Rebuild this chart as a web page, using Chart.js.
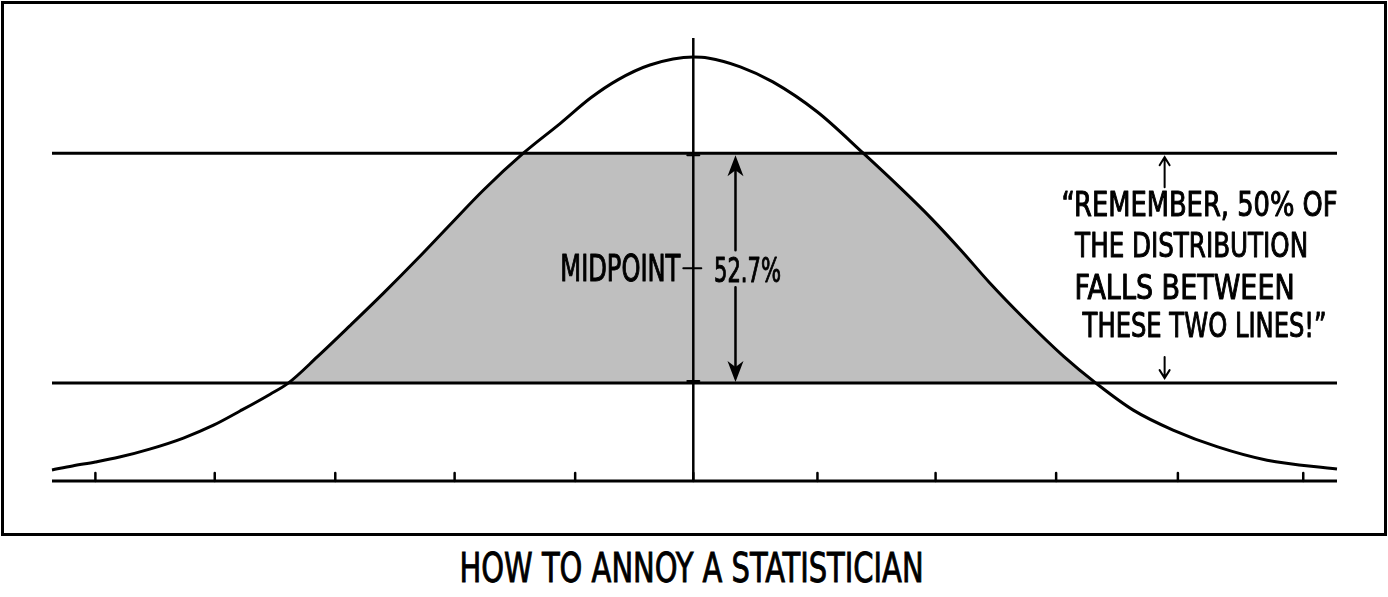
<!DOCTYPE html>
<html>
<head>
<meta charset="utf-8">
<script src="https://cdn.jsdelivr.net/npm/chart.js@4/dist/chart.umd.min.js"></script>
<style>
  body { margin: 0; background: #fff; width: 1388px; height: 597px; overflow: hidden; position: relative; }
  #frame { position: absolute; left: 1px; top: 1px; width: 1380px; height: 529px; border: 3px solid #000; }
  #title { position: absolute; left: 0; top: 548px; width: 1384px; text-align: center;
           font: 41px/41px "Liberation Sans Narrow", "DejaVu Sans Condensed", "Liberation Sans", sans-serif; color: #000;
           -webkit-text-stroke: 0.9px #000; }
  #title span { display: inline-block; transform-origin: 50% 50%; white-space: nowrap; }
</style>
</head>
<body>
<div id="frame"><canvas id="bell" width="1380" height="529"></canvas></div>
<div id="title"><span>HOW TO ANNOY A STATISTICIAN</span></div>
<script>
// curve (x in tick units, y in arbitrary height units)
const curveX = [-5.32, -5.15, -4.96, -4.76, -4.51, -4.23, -3.98, -3.76, -3.51, -3.36, -3.12, -2.85, -2.57, -2.29, -2.02, -1.74, -1.41, -1.10, -0.85, -0.63, -0.36, 0, 0.12, 0.39, 0.66, 1.03, 1.41, 1.72, 1.97, 2.22, 2.46, 2.74, 3.07, 3.34, 3.65, 3.98, 4.35, 4.76, 5.34];
const curveY = [0.25, 0.34, 0.43, 0.54, 0.72, 0.97, 1.26, 1.58, 1.96, 2.21, 2.80, 3.50, 4.24, 5.01, 5.78, 6.57, 7.40, 8.08, 8.65, 9.05, 9.39, 9.57, 9.55, 9.35, 9.01, 8.33, 7.40, 6.61, 5.94, 5.21, 4.47, 3.68, 2.82, 2.21, 1.60, 1.15, 0.77, 0.47, 0.27];
const xTicks = [-4.96, -3.97, -2.97, -1.98, -0.98, 0, 1.03, 2.01, 3.01, 4.02, 5.06];
const bandLow = 2.21;
const bandHigh = 7.40;
const xMin = -5.32, xMax = 5.34, yTop = 10;
const midLabel = 'MIDPOINT';
const shareLabel = '52.7%';
const shareX = 0.35;
const noteX = 3.91;
const noteLines = ['\u201CREMEMBER, 50% OF', 'THE DISTRIBUTION', 'FALLS BETWEEN', 'THESE TWO LINES!\u201D'];

const FONT = '"Liberation Sans Narrow", "DejaVu Sans Condensed", "Liberation Sans", sans-serif';
const GRAY = '#bfbfbf';

const curve = curveX.map((x, i) => ({ x: x, y: curveY[i] }));
const hline = (y) => [{ x: xMin, y: y }, { x: xMax, y: y }];

// text squeezed to a given width, centred on cx, caps centred on cy
function handText(ctx, str, cx, cy, w, size) {
  ctx.save();
  ctx.font = size + 'px ' + FONT;
  const m = ctx.measureText(str).width;
  ctx.translate(cx, cy + size * 0.36);
  ctx.scale(w / m, 1);
  ctx.textAlign = 'center';
  ctx.textBaseline = 'alphabetic';
  ctx.fillStyle = '#000';
  ctx.strokeStyle = '#000';
  ctx.lineWidth = 1;
  ctx.lineJoin = 'round';
  ctx.fillText(str, 0, 0);
  ctx.strokeText(str, 0, 0);
  ctx.restore();
}

function bigHead(ctx, x, y, dir) { // dir -1 points up, 1 points down
  ctx.beginPath();
  ctx.moveTo(x, y);
  ctx.lineTo(x - 8, y - dir * 21);
  ctx.lineTo(x, y - dir * 15);
  ctx.lineTo(x + 8, y - dir * 21);
  ctx.closePath();
  ctx.fill();
}

function smallArrow(ctx, x, y1, y2) { // head at y1
  const d = y2 > y1 ? 1 : -1;
  ctx.beginPath();
  ctx.moveTo(x, y2); ctx.lineTo(x, y1);
  ctx.moveTo(x - 5, y1 + d * 8); ctx.lineTo(x, y1); ctx.lineTo(x + 5, y1 + d * 8);
  ctx.stroke();
}

const notes = {
  id: 'notes',
  afterDatasetsDraw(chart) {
    const ctx = chart.ctx;
    const xs = chart.scales.x, ys = chart.scales.y;
    const x0 = xs.getPixelForValue(0);
    const y0 = ys.getPixelForValue(0);
    const yHi = ys.getPixelForValue(bandHigh);
    const yLo = ys.getPixelForValue(bandLow);
    const yMid = ys.getPixelForValue((bandHigh + bandLow) / 2);
    ctx.save();
    ctx.strokeStyle = '#000';
    ctx.fillStyle = '#000';
    ctx.lineCap = 'round';

    // axis ticks
    ctx.lineWidth = 2.5;
    xTicks.forEach(t => {
      const px = xs.getPixelForValue(t);
      ctx.beginPath(); ctx.moveTo(px, y0); ctx.lineTo(px, y0 - 8); ctx.stroke();
    });

    // marks on the centre axis
    ctx.lineWidth = 2;
    [yHi + 2, yLo - 2].forEach(y => {
      ctx.beginPath(); ctx.moveTo(x0 - 6, y); ctx.lineTo(x0 + 6, y); ctx.stroke();
    });
    ctx.beginPath(); ctx.moveTo(x0 - 10, yMid); ctx.lineTo(x0 + 8, yMid); ctx.stroke();
    handText(ctx, midLabel, x0 - 73, yMid, 120, 37);

    // double arrow with the share
    const ax = xs.getPixelForValue(shareX);
    ctx.lineWidth = 2.5;
    ctx.beginPath();
    ctx.moveTo(ax, yHi + 10); ctx.lineTo(ax, yMid - 18);
    ctx.moveTo(ax, yMid + 19); ctx.lineTo(ax, yLo - 10);
    ctx.stroke();
    bigHead(ctx, ax, yHi + 2, -1);
    bigHead(ctx, ax, yLo - 1, 1);
    handText(ctx, shareLabel, ax + 12, yMid + 2, 67, 34);

    // the quote on the right
    const nx = xs.getPixelForValue(noteX);
    ctx.lineWidth = 2;
    smallArrow(ctx, nx, yHi + 4, yHi + 34);
    smallArrow(ctx, nx, yLo - 5, yLo - 26);
    const offs = [[35, 51, 276], [27, 92, 233], [20, 134, 220], [40, 172, 244]];
    noteLines.forEach((s, i) => {
      handText(ctx, s, nx + offs[i][0], yHi + offs[i][1], offs[i][2], 34);
    });
    ctx.restore();
  }
};

const ctx = document.getElementById('bell').getContext('2d');
const bell = new Chart(ctx, {
  type: 'scatter',
  data: {
    datasets: [
      { // grey band under the curve, above the lower line
        data: curve, showLine: true, borderWidth: 0, pointRadius: 0, order: 6,
        cubicInterpolationMode: 'monotone',
        backgroundColor: GRAY,
        fill: { target: { value: bandLow }, above: GRAY, below: 'rgba(0,0,0,0)' }
      },
      { // nothing above the upper line
        data: curve, showLine: true, borderWidth: 0, pointRadius: 0, order: 5,
        cubicInterpolationMode: 'monotone',
        backgroundColor: '#fff',
        fill: { target: { value: bandHigh }, above: '#fff', below: 'rgba(0,0,0,0)' }
      },
      { data: hline(bandHigh), showLine: true, borderColor: '#000', borderWidth: 3, pointRadius: 0, order: 3, clip: false },
      { data: hline(bandLow), showLine: true, borderColor: '#000', borderWidth: 3, pointRadius: 0, order: 3, clip: false },
      { data: hline(0), showLine: true, borderColor: '#000', borderWidth: 3, pointRadius: 0, order: 3, clip: false },
      { data: [{ x: 0, y: 0 }, { x: 0, y: yTop }], showLine: true, borderColor: '#000', borderWidth: 2.5, pointRadius: 0, order: 2, clip: false },
      {
        data: curve, showLine: true, borderColor: '#000', borderWidth: 3, pointRadius: 0, order: 1,
        cubicInterpolationMode: 'monotone', fill: false, clip: false
      }
    ]
  },
  options: {
    responsive: false,
    animation: false,
    layout: { padding: { left: 48, right: 47, top: 34, bottom: 52 } },
    scales: {
      x: { type: 'linear', min: xMin, max: xMax, display: false },
      y: { type: 'linear', min: 0, max: yTop, display: false }
    },
    plugins: { legend: { display: false }, tooltip: { enabled: false } }
  },
  plugins: [notes]
});

// squeeze the caption to the hand-lettered width
const cap = document.querySelector('#title span');
cap.style.transform = 'scaleX(' + (464 / cap.offsetWidth) + ')';
</script>
</body>
</html>
